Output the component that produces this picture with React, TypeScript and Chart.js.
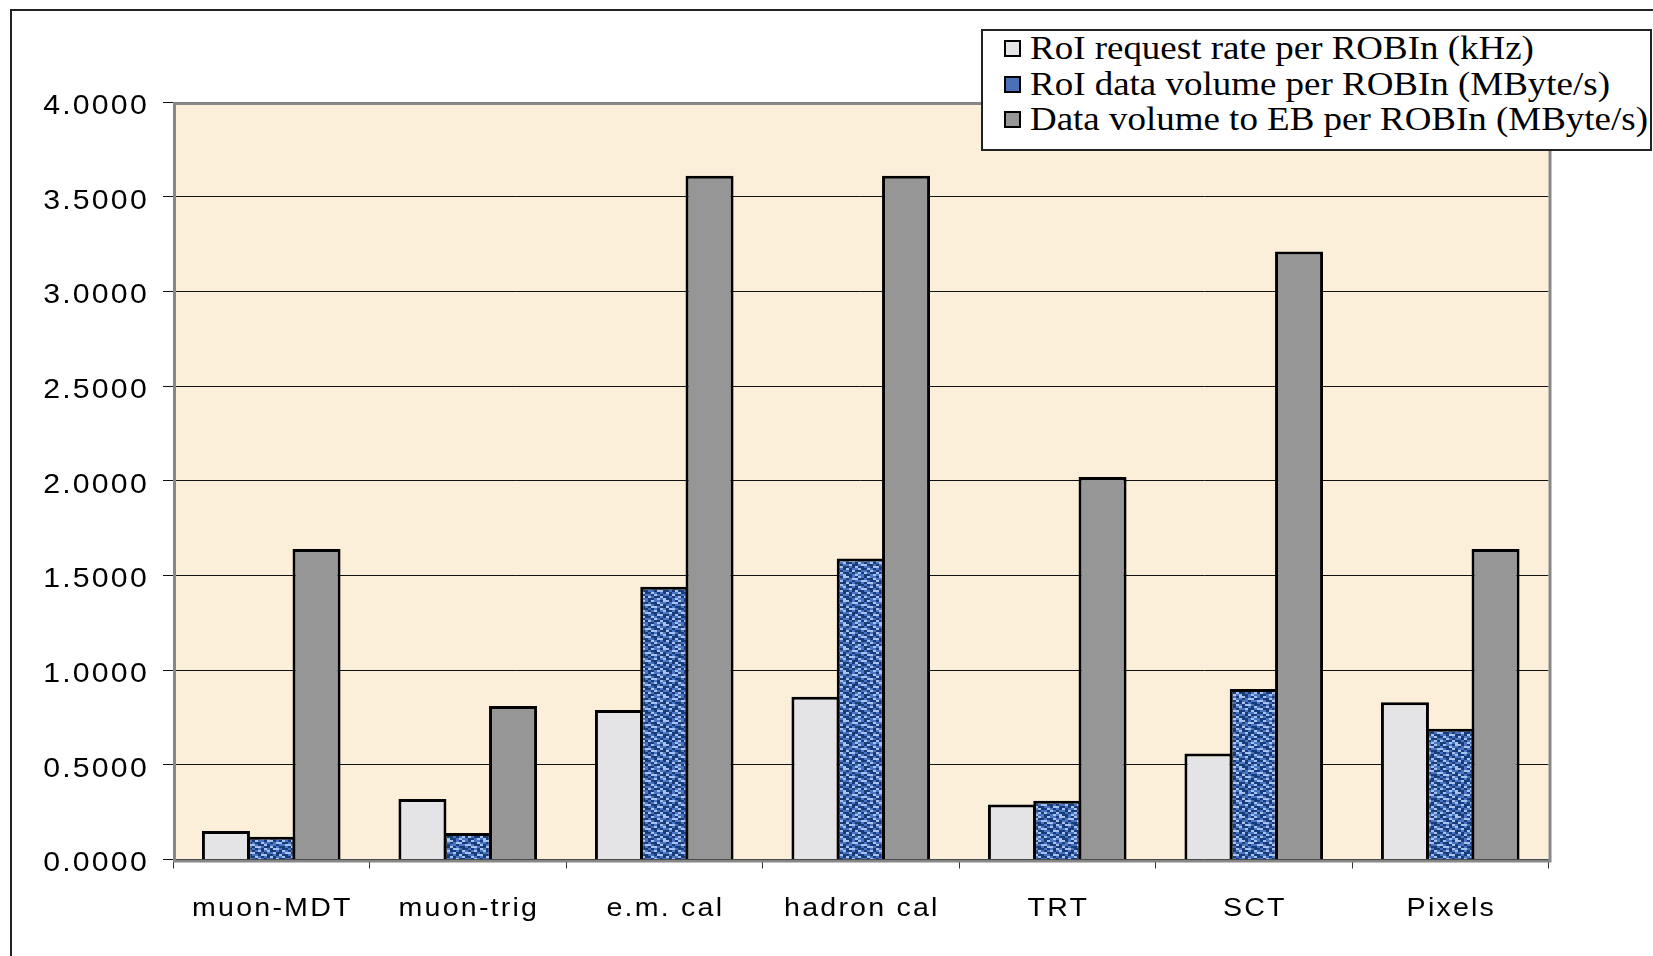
import React, { useEffect, useRef } from 'react';
import { Chart, registerables } from 'chart.js';

Chart.register(...registerables);

// Detector categories along the x axis
const categories = ['muon-MDT', 'muon-trig', 'e.m. cal', 'hadron cal', 'TRT', 'SCT', 'Pixels'];

// Series values per ROBIn
const roiRequestRate = [0.15, 0.32, 0.79, 0.86, 0.29, 0.56, 0.83];
const roiDataVolume = [0.12, 0.14, 1.44, 1.59, 0.31, 0.9, 0.69];
const ebDataVolume = [1.64, 0.81, 3.61, 3.61, 2.02, 3.21, 1.64];

const seriesLabels = [
  'RoI request rate per ROBIn (kHz)',
  'RoI data volume per ROBIn (MByte/s)',
  'Data volume to EB per ROBIn (MByte/s)',
];

// Value axis
const yMin = 0;
const yMax = 4;
const yStep = 0.5;
const yDecimals = 4;

const PLOT_BG = '#FBEFD9';
const LIGHT_FILL = '#E4E4E6';
const EB_FILL = '#969696';
const BLUE_AVG = '#4A70B8';

// Tile used as the blue textured fill
const BLUE_TILE = [
  '021102201021',
  '100211012200',
  '210020110112',
  '022100201001',
  '101021022100',
  '012012001021',
  '200101120012',
  '110220010200',
  '021010201120',
  '102101102001',
  '210020010120',
  '001212001211',
];
const BLUE_SHADES = ['#183C78', '#4A74C4', '#A8C2F2'];

function makeBluePattern(ctx: CanvasRenderingContext2D) {
  const tile = document.createElement('canvas');
  tile.width = 36;
  tile.height = 24;
  const g = tile.getContext('2d')!;
  BLUE_TILE.forEach((row, y) => {
    row.split('').forEach((ch, x) => {
      g.fillStyle = BLUE_SHADES[Number(ch)];
      g.fillRect(x * 3, y * 2, 3, 2);
    });
  });
  return ctx.createPattern(tile, 'repeat') || BLUE_AVG;
}

const axisFont = '"Liberation Sans", Arial, sans-serif';
const TEXT_STRETCH = 1.1;
const TEXT_SPACING = 2;

// Parchment plot background and grey plot frame
const plotFrame = {
  id: 'plotFrame',
  beforeDraw(chart: any) {
    const { ctx, chartArea: a } = chart;
    ctx.save();
    ctx.fillStyle = PLOT_BG;
    ctx.fillRect(a.left, a.top, a.right - a.left, a.bottom - a.top);
    ctx.restore();
  },
  afterDatasetsDraw(chart: any) {
    const { ctx, chartArea: a } = chart;
    ctx.save();
    ctx.strokeStyle = '#878787';
    ctx.lineWidth = 3;
    ctx.strokeRect(a.left + 1.5, a.top + 1.5, a.right - a.left, a.bottom - a.top);
    ctx.restore();
  },
};

// Tick labels drawn with a slightly widened, spaced face at the scales' tick pixels
const wideTickLabels = {
  id: 'wideTickLabels',
  afterDraw(chart: any) {
    const { ctx } = chart;
    const xs = chart.scales.x;
    const ys = chart.scales.y;
    ctx.save();
    ctx.fillStyle = '#000000';
    ctx.textBaseline = 'middle';
    (ctx as any).letterSpacing = `${TEXT_SPACING}px`;

    ctx.font = `27.5px ${axisFont}`;
    ctx.textAlign = 'right';
    ys.ticks.forEach((t: any, i: number) => {
      const y = ys.getPixelForTick(i) + 4.3;
      ctx.save();
      ctx.translate(ys.right - 26.3 + TEXT_SPACING * TEXT_STRETCH, y);
      ctx.scale(TEXT_STRETCH, 1);
      ctx.fillText(Number(t.value).toFixed(yDecimals), 0, 0);
      ctx.restore();
    });

    ctx.font = `26px ${axisFont}`;
    ctx.textAlign = 'center';
    xs.ticks.forEach((_t: any, i: number) => {
      const x = xs.getPixelForTick(i) + (TEXT_SPACING * TEXT_STRETCH) / 2;
      ctx.save();
      ctx.translate(x, xs.top + 49);
      ctx.scale(TEXT_STRETCH, 1);
      ctx.fillText(String(xs.getLabelForValue(i)), 0, 0);
      ctx.restore();
    });
    ctx.restore();
  },
};

export default function App() {
  const canvasRef = useRef<HTMLCanvasElement | null>(null);

  useEffect(() => {
    const canvas = canvasRef.current;
    if (!canvas) return;
    const ctx = canvas.getContext('2d')!;
    const bluePattern = makeBluePattern(ctx);

    const chart = new Chart(canvas, {
      type: 'bar',
      data: {
        labels: categories,
        datasets: [
          { label: seriesLabels[0], data: roiRequestRate, backgroundColor: LIGHT_FILL },
          { label: seriesLabels[1], data: roiDataVolume, backgroundColor: bluePattern as any },
          { label: seriesLabels[2], data: ebDataVolume, backgroundColor: EB_FILL },
        ],
      },
      options: {
        responsive: false,
        maintainAspectRatio: false,
        animation: false,
        devicePixelRatio: 1,
        layout: { padding: { left: 0, top: 102, right: 104.5, bottom: 0 } },
        datasets: {
          bar: {
            categoryPercentage: 0.6916,
            barPercentage: 1.06,
            borderWidth: 3,
            borderColor: '#000000',
            borderSkipped: 'start',
          },
        },
        plugins: {
          legend: { display: false },
          tooltip: { enabled: false },
          title: { display: false },
        },
        scales: {
          x: {
            offset: true,
            grid: {
              display: true,
              offset: true,
              drawOnChartArea: false,
              drawTicks: true,
              tickLength: 9,
              color: '#333333',
              lineWidth: 1,
            },
            border: { display: false },
            ticks: { display: false, autoSkip: false, maxRotation: 0 },
            afterFit(scale: any) {
              scale.height = 96.5;
            },
          },
          y: {
            min: yMin,
            max: yMax,
            grid: {
              color: '#111111',
              lineWidth: 1,
              drawTicks: true,
              tickLength: 10,
              tickColor: '#111111',
            },
            border: { display: false },
            ticks: { display: false, stepSize: yStep },
            afterFit(scale: any) {
              scale.width = 173;
            },
          },
        },
      },
      plugins: [plotFrame, wideTickLabels],
    } as any);

    return () => chart.destroy();
  }, []);

  const legendKeys = [LIGHT_FILL, BLUE_AVG, EB_FILL];
  const legendTop = 29;
  const baselines = [59, 94.5, 130];

  return (
    <div
      style={{
        position: 'fixed',
        left: 0,
        top: 0,
        width: 1653,
        height: 956,
        overflow: 'hidden',
        background: '#ffffff',
      }}
    >
      <div
        style={{
          position: 'absolute',
          left: 10,
          top: 9,
          width: 1800,
          height: 1100,
          border: '2px solid #222222',
          boxSizing: 'border-box',
        }}
      />
      <canvas
        ref={canvasRef}
        width={1653}
        height={956}
        style={{ position: 'absolute', left: 0, top: 0, width: 1653, height: 956 }}
      />
      <div
        style={{
          position: 'absolute',
          left: 981,
          top: legendTop,
          width: 671,
          height: 122,
          border: '2px solid #222222',
          background: '#ffffff',
          boxSizing: 'border-box',
        }}
      >
        {seriesLabels.map((label, i) => (
          <React.Fragment key={label}>
            <div
              style={{
                position: 'absolute',
                left: 1004 - 983,
                top: baselines[i] - 19 - legendTop - 2,
                width: 17,
                height: 17,
                boxSizing: 'border-box',
                border: '2.5px solid #000000',
                background: legendKeys[i],
              }}
            />
            <div
              style={{
                position: 'absolute',
                left: 1030 - 983,
                top: baselines[i] - 29 - legendTop - 2,
                height: 36,
                lineHeight: '36px',
                fontFamily: '"Liberation Serif", "Times New Roman", serif',
                fontSize: 33,
                color: '#000000',
                whiteSpace: 'nowrap',
                transform: 'scaleX(1.12)',
                transformOrigin: 'left center',
              }}
            >
              {label}
            </div>
          </React.Fragment>
        ))}
      </div>
    </div>
  );
}
